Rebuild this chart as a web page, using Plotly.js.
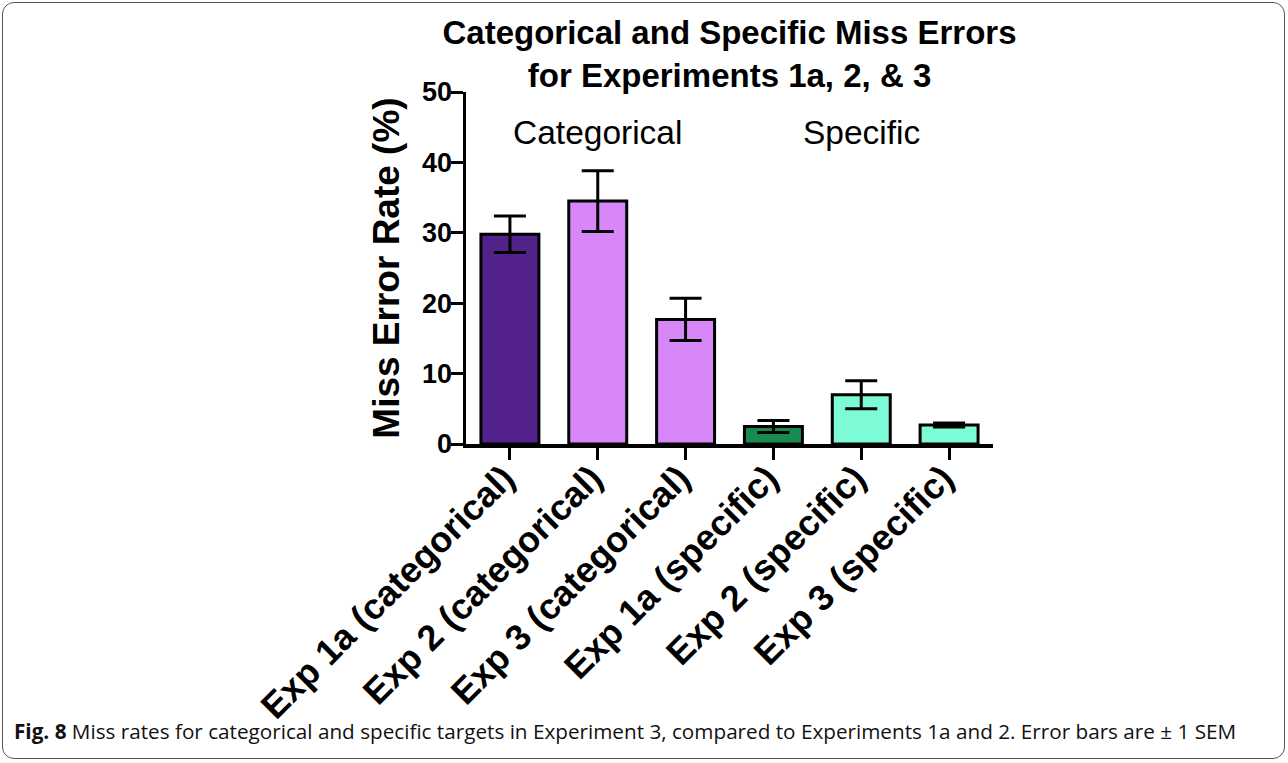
<!DOCTYPE html>
<html>
<head>
<meta charset="utf-8">
<script src="https://cdn.plot.ly/plotly-3.0.1.min.js"></script>
<style>
  html, body { margin: 0; padding: 0; background: #fff; }
  #wrap { position: relative; width: 1288px; height: 763px; }
  #chart { position: absolute; left: 0; top: 0; width: 1288px; height: 763px; }
  #frame { position: absolute; left: 2px; top: 2px; width: 1281px; height: 755px;
           border: 1.5px solid #555; border-radius: 12px; pointer-events: none; }
</style>
</head>
<body>
<div id="wrap">
  <div id="chart"></div>
  <div id="frame"></div>
</div>
<script>
// ---- data ----
const categories = [
  "Exp 1a (categorical)",
  "Exp 2 (categorical)",
  "Exp 3 (categorical)",
  "Exp 1a (specific)",
  "Exp 2 (specific)",
  "Exp 3 (specific)"
];
const missRate = [29.8, 34.5, 17.7, 2.5, 7.0, 2.7];
const sem = [2.6, 4.3, 3.0, 0.85, 2.0, 0.3];
const barColors = ["#52218a", "#d787f8", "#d787f8", "#188c50", "#7dfbd6", "#7dfbd6"];
const groupLabels = ["Categorical", "Specific"];
const groupLabelAt = [categories[1], categories[4]];
const yTicks = [0, 10, 20, 30, 40, 50];

const plotL = 466, plotR = 993, plotT = 92, plotB = 444;
const W = 1288, H = 763;
const pw = plotR - plotL, ph = plotB - plotT;
function px2paperX(px) { return (px - plotL) / pw; }
function px2paperY(py) { return (plotB - py) / ph; }

const trace = {
  type: "bar",
  x: categories,
  y: missRate,
  marker: { color: barColors, line: { color: "#000", width: 3 } },
  error_y: { type: "data", array: sem, visible: true, color: "#000", thickness: 3, width: 16 },
  hoverinfo: "skip"
};

const axisFont = { family: "Liberation Sans, Arial, sans-serif", color: "#000" };

const layout = {
  width: W, height: H,
  margin: { l: plotL, r: W - plotR, t: plotT, b: H - plotB, pad: 0 },
  paper_bgcolor: "rgba(0,0,0,0)",
  plot_bgcolor: "rgba(0,0,0,0)",
  showlegend: false,
  bargap: 0.34,
  title: {
    text: "<b>Categorical and Specific Miss Errors<br>for Experiments 1a, 2, & 3</b>",
    font: { family: "Liberation Sans, Arial, sans-serif", size: 33, color: "#000" },
    xref: "paper", x: 0.5, xanchor: "center",
    yref: "container", y: 0.942, yanchor: "top"
  },
  xaxis: {
    type: "category",
    range: [-0.5, 5.5],
    showline: true, linecolor: "#000", linewidth: 3.5,
    ticks: "outside", ticklen: 12, tickwidth: 3, tickcolor: "#000",
    tickangle: -45,
    ticklabelstandoff: -17,
    ticklabelshift: -6,
    tickfont: Object.assign({ size: 36, weight: "bold" }, axisFont),
    showgrid: false, zeroline: false, automargin: false, fixedrange: true
  },
  yaxis: {
    range: [0, 50],
    tickvals: yTicks,
    showline: true, linecolor: "#000", linewidth: 3.5,
    ticks: "outside", ticklen: 12, tickwidth: 3, tickcolor: "#000",
    ticklabelstandoff: -7,
    tickfont: Object.assign({ size: 27, weight: "bold" }, axisFont),
    showgrid: false, zeroline: false, automargin: false, fixedrange: true,
    title: {
      text: "<b>Miss Error Rate (%)</b>",
      font: Object.assign({ size: 37 }, axisFont),
      standoff: 12
    }
  },
  annotations: [
    {
      x: groupLabelAt[0], y: 44.3, xref: "x", yref: "y",
      text: groupLabels[0], showarrow: false,
      font: { family: "Liberation Sans, Arial, sans-serif", size: 33.5, color: "#000" }
    },
    {
      x: groupLabelAt[1], y: 44.3, xref: "x", yref: "y",
      text: groupLabels[1], showarrow: false,
      font: { family: "Liberation Sans, Arial, sans-serif", size: 33.5, color: "#000" }
    },
    {
      x: px2paperX(12), y: px2paperY(731), xref: "paper", yref: "paper",
      xanchor: "left", yanchor: "middle",
      text: "<b>Fig. 8</b> Miss rates for categorical and specific targets in Experiment 3, compared to Experiments 1a and 2. Error bars are ± 1 SEM",
      showarrow: false,
      font: { family: "Open Sans, Noto Sans, sans-serif", size: 20.7, color: "#111" }
    }
  ]
};

Plotly.newPlot("chart", [trace], layout, { displayModeBar: false, staticPlot: true });
</script>
</body>
</html>
